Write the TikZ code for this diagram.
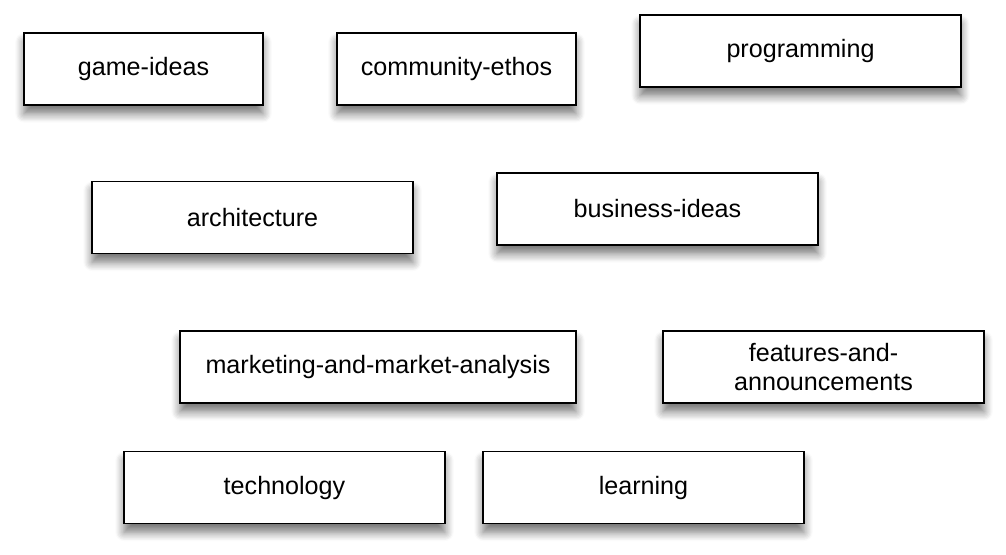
\documentclass[tikz,border=0pt]{standalone}
\usepackage{fontspec}
\setmainfont{Liberation Sans}
\usepackage{tikz}
\usetikzlibrary{shadows.blur}

\begin{document}
\begin{tikzpicture}
      [
        x=0.02cm, y=-0.02cm,
        topic/.style={draw=black, line width=1pt, fill=white, minimum height=1.44cm,
          minimum width=6.42cm, align=center, inner sep=2pt,
          font=\fontsize{14.3}{16.5}\selectfont,
          blur shadow={shadow xshift=0pt, shadow yshift=-5pt, shadow blur radius=5pt,
            shadow blur steps=8, shadow opacity=55}},
        short/.style={topic, minimum width=4.78cm},
        long/.style={topic, minimum width=7.92cm}
      ]
      \useasboundingbox (0,0) rectangle (1006,554);
      % top row
      \node [short] (game) at (143.5,69) {game-ideas};
      \node [short] (ethos) at (456.5,69) {community-ethos};
      \node [topic] (prog) at (800.5,51) {programming};
      % second row
      \node [topic] (arch) at (252.5,217.5) {architecture};
      \node [topic] (biz) at (657.5,209) {business-ideas};
      % third row
      \node [long] (market) at (378,367) {marketing-and-market-analysis};
      \node [topic] (feat) at (823.5,367) {features-and-\\announcements};
      % bottom row
      \node [topic] (tech) at (284.5,487.5) {technology};
      \node [topic] (learn) at (643.5,487.5) {learning};
\end{tikzpicture}
\end{document}
